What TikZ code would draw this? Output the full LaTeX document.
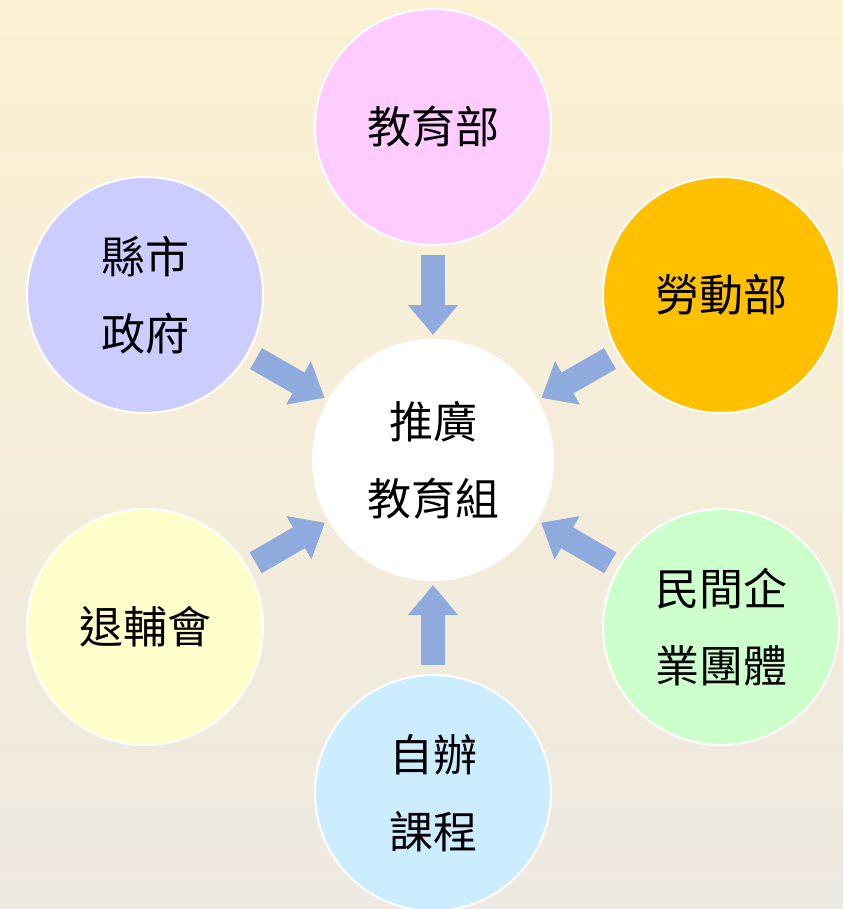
\documentclass[tikz,border=0pt]{standalone}
\usepackage{fontspec}
\newfontfamily\cjk{Noto Sans CJK TC}
\usetikzlibrary{arrows.meta}
\definecolor{bgtop}{HTML}{FBF1D2}
\definecolor{bgmid}{HTML}{E4E1D2}
\definecolor{bgbot}{HTML}{EEE9E1}
\definecolor{arrowblue}{HTML}{8FAADC}
\definecolor{cpink}{HTML}{FFCCFF}
\definecolor{corange}{HTML}{FFC000}
\definecolor{clav}{HTML}{CCCCFF}
\definecolor{cyellow}{HTML}{FFFFCC}
\definecolor{cgreen}{HTML}{CCFFCC}
\definecolor{cblue}{HTML}{CCECFF}

\begin{document}
\begin{tikzpicture}[x=1pt,y=-1pt,
	unit/.style={circle,draw=white,line width=2pt,minimum size=236pt,inner sep=0pt,outer sep=0pt,
		align=center,font=\cjk\fontsize{44}{77}\selectfont},
	bigarrow/.style={draw=arrowblue,line width=24pt,-{Triangle[width=48pt,length=30pt,fill=arrowblue]},
		shorten <=10pt,shorten >=5pt}]
	\useasboundingbox (0,0) rectangle (843,909);
	\clip (0,0) rectangle (843,909);
	\shade[top color=bgtop,middle color=bgmid,bottom color=bgbot] (0,0) rectangle (843,909);
	\node[unit,fill=white,minimum size=240pt] (tgz) at (433,460) {推廣\\教育組};
	\node[unit,fill=cpink] (jyb) at (433,127) {教育部};
	\node[unit,fill=corange] (ldb) at (721,295) {勞動部};
	\node[unit,fill=clav] (xsz) at (145,295) {縣市\\政府};
	\node[unit,fill=cyellow] (tfh) at (145,627) {退輔會};
	\node[unit,fill=cgreen] (mjq) at (721,627) {民間企\\業團體};
	\node[unit,fill=cblue] (zbk) at (433,793) {自辦\\課程};
	\draw[bigarrow] (jyb) -- (tgz);
	\draw[bigarrow] (ldb) -- (tgz);
	\draw[bigarrow] (xsz) -- (tgz);
	\draw[bigarrow] (tfh) -- (tgz);
	\draw[bigarrow] (mjq) -- (tgz);
	\draw[bigarrow] (zbk) -- (tgz);
\end{tikzpicture}
\end{document}
